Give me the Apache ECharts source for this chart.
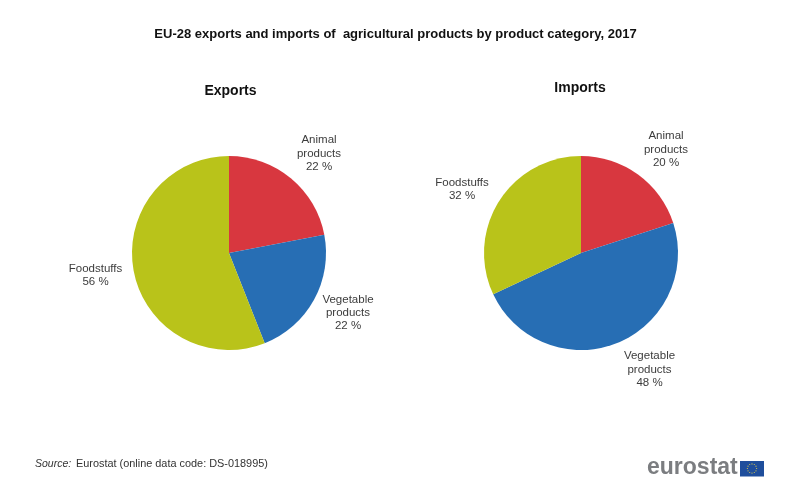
<!DOCTYPE html>
<html>
<head>
<meta charset="utf-8">
<style>html,body{margin:0;padding:0;background:#fff}#chart{width:792px;height:485px}</style>
<script src="https://cdn.jsdelivr.net/npm/echarts@6/dist/echarts.min.js"></script>
</head>
<body>
<div id="chart"></div>
<script>
// Product categories and their share of EU-28 trade, in percent
const categories = ['Animal\nproducts', 'Vegetable\nproducts', 'Foodstuffs'];
const exportsShare = [22, 22, 56];
const importsShare = [20, 48, 32];
const sliceColors = ['#d8373f', '#276eb4', '#b9c31a'];

// Label anchor points (centre of the text block) for each pie
const exportLabelAt = [[319, 153.5], [348, 313], [95.5, 275.5]];
const importLabelAt = [[666, 149.5], [649.5, 369.5], [462, 189.5]];

const FONT = '"Liberation Sans", Arial, sans-serif';

function pie(values, center, labelAt) {
  return {
    type: 'pie',
    center: center,
    radius: [0, 97],
    startAngle: 90,
    clockwise: true,
    silent: true,
    animation: false,
    itemStyle: { borderWidth: 0 },
    label: {
      show: true,
      position: 'outside',
      formatter: p => p.name + '\n' + p.value + ' %',
      fontFamily: FONT,
      fontSize: 11.5,
      lineHeight: 13.3,
      color: '#3c3c3c',
      align: 'center'
    },
    labelLine: { show: false },
    labelLayout: p => ({
      x: labelAt[p.dataIndex][0],
      y: labelAt[p.dataIndex][1],
      align: 'center',
      verticalAlign: 'middle',
      hideOverlap: false
    }),
    data: values.map((v, i) => ({
      name: categories[i],
      value: v,
      itemStyle: { color: sliceColors[i] }
    }))
  };
}

// Twelve small dots in a ring make up the emblem on the flag
const flagCentre = [752, 468.5];
const flagDots = Array.from({ length: 12 }, (_, i) => ({
  type: 'circle',
  shape: {
    cx: flagCentre[0] + 4.6 * Math.cos(i * Math.PI / 6),
    cy: flagCentre[1] + 4.6 * Math.sin(i * Math.PI / 6),
    r: 0.6
  },
  style: { fill: '#d9c94a' }
}));

function heading(text, x, y, size) {
  return {
    text: text, left: x, top: y, padding: 0,
    textAlign: 'center', textVerticalAlign: 'middle',
    textStyle: { fontFamily: FONT, fontSize: size, fontWeight: 'bold', color: '#111' }
  };
}

const chart = echarts.init(document.getElementById('chart'), null, { renderer: 'canvas' });
chart.setOption({
  backgroundColor: '#fff',
  animation: false,
  title: [
    heading('EU-28 exports and imports of  agricultural products by product category, 2017', 395.5, 34.5, 13),
    heading('Exports', 230.5, 91, 14),
    heading('Imports', 580, 88, 14)
  ],
  series: [
    pie(exportsShare, [229, 253], exportLabelAt),
    pie(importsShare, [581, 253], importLabelAt)
  ],
  graphic: [
    { type: 'text', x: 35, y: 459,
      style: { text: 'Source:', font: 'italic 10.5px ' + FONT, fill: '#333' } },
    { type: 'text', x: 76, y: 458,
      style: { text: 'Eurostat (online data code: DS-018995)', font: '10.9px ' + FONT, fill: '#333' } },
    { type: 'text', x: 647, y: 456,
      style: { text: 'eurostat', font: 'bold 23px ' + FONT, fill: '#7b7d80' } },
    { type: 'rect', shape: { x: 740, y: 461, width: 24, height: 15.5 }, style: { fill: '#1f4e9c' } },
    ...flagDots
  ]
});
</script>
</body>
</html>
